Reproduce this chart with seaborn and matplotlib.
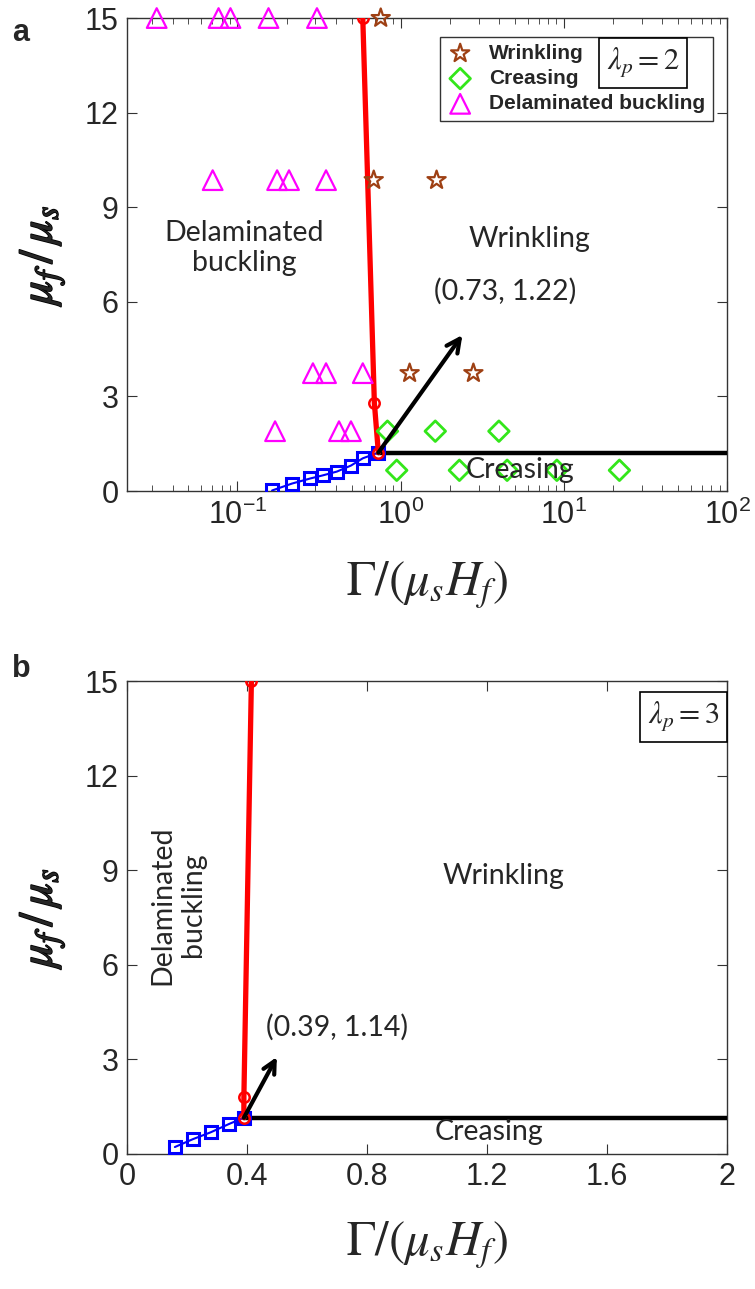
import numpy as np
import pandas as pd
import matplotlib
matplotlib.use("Agg")
import matplotlib.pyplot as plt
import matplotlib.patheffects as pe
from matplotlib.ticker import FixedLocator, FuncFormatter, LogLocator, NullFormatter
import seaborn as sns

# ---- panel a data (lambda_p = 2), log x ----
wrinkling_x = [0.755, 0.684, 1.66, 1.135, 2.79]
wrinkling_y = [15.0, 9.86, 9.86, 3.74, 3.74]
creasing_x = [0.83, 1.63, 4.0, 0.946, 2.29, 4.49, 9.06, 21.9]
creasing_y = [1.9, 1.9, 1.9, 0.66, 0.66, 0.66, 0.66, 0.66]
delam_x = [0.032, 0.0766, 0.0906, 0.155, 0.307,
           0.0705, 0.175, 0.207, 0.349,
           0.29, 0.349, 0.586,
           0.17, 0.419, 0.496]
delam_y = [15.0, 15.0, 15.0, 15.0, 15.0,
           9.86, 9.86, 9.86, 9.86,
           3.74, 3.74, 3.74,
           1.9, 1.9, 1.9]
blue_a_x = [0.163, 0.216, 0.279, 0.334, 0.407, 0.496, 0.586, 0.73]
blue_a_y = [0.02, 0.24, 0.40, 0.50, 0.62, 0.81, 1.04, 1.22]
red_a_x = [0.73, 0.69, 0.586]
red_a_y = [1.22, 2.8, 15.0]
crease_a_x = [0.73, 100.0]
crease_a_y = [1.22, 1.22]

# ---- panel b data (lambda_p = 3), linear x ----
blue_b_x = [0.16, 0.22, 0.28, 0.34, 0.39]
blue_b_y = [0.21, 0.46, 0.68, 0.94, 1.14]
red_b_x = [0.39, 0.39, 0.415]
red_b_y = [1.14, 1.8, 15.0]
crease_b_x = [0.39, 2.0]
crease_b_y = [1.14, 1.14]

y_ticks = [0, 3, 6, 9, 12, 15]
xb_ticks = [0, 0.4, 0.8, 1.2, 1.6, 2.0]
xb_labels = ["0", "0.4", "0.8", "1.2", "1.6", "2"]

sns.set_style("ticks")
plt.rcParams['font.family'] = ['Liberation Sans Narrow', 'Liberation Sans', 'DejaVu Sans']
plt.rcParams['mathtext.fontset'] = 'stix'

TICK_FS = 22
REGION_FONT = ['Lato', 'Open Sans', 'DejaVu Sans']
REGION_FS = 20.5

fig = plt.figure(figsize=(7.55, 12.89), dpi=100)
ax_a = fig.add_axes([0.168, 0.619, 0.795, 0.367])
ax_b = fig.add_axes([0.168, 0.105, 0.795, 0.3666])


def style_axes(ax):
    for s in ax.spines.values():
        s.set_color('0.2')
        s.set_linewidth(1.0)
    ax.tick_params(which='both', direction='in', top=True, right=True,
                   labelsize=TICK_FS, color='0.2', pad=6)
    ax.tick_params(which='major', length=7)
    ax.tick_params(which='minor', length=4)
    ax.set_ylim(0, 15)
    ax.yaxis.set_major_locator(FixedLocator(y_ticks))
    ax.set_ylabel(r"$\mu_f\,/\,\mu_s$", fontsize=34,
                  path_effects=[pe.withStroke(linewidth=1.2, foreground='black')])
    ax.yaxis.set_label_coords(-0.1, 0.5)
    ax.set_xlabel(r"$\Gamma/\left(\mu_s H_f\right)$", fontsize=35)


def phase_lines(ax, bx, by, rx, ry, cx, cy):
    sns.lineplot(x=bx, y=by, ax=ax, sort=False, estimator=None, color='blue', lw=1.5,
                 marker='s', markersize=9, markerfacecolor='none',
                 markeredgecolor='blue', markeredgewidth=2.2, zorder=4)
    sns.lineplot(x=cx, y=cy, ax=ax, sort=False, estimator=None, color='black', lw=3.2,
                 zorder=3)
    sns.lineplot(x=rx, y=ry, ax=ax, sort=False, estimator=None, color='red', lw=3.8,
                 marker='o', markersize=7.5, markerfacecolor='none',
                 markeredgecolor='red', markeredgewidth=1.8, zorder=5)


# ---------------- panel a ----------------
ax = ax_a
ax.set_xscale('log')
sns.scatterplot(x=wrinkling_x, y=wrinkling_y, ax=ax, marker='*', s=190,
                facecolor='none', edgecolor=(0.62, 0.25, 0.08), linewidth=1.6,
                label='Wrinkling', zorder=6, clip_on=False)
sns.scatterplot(x=creasing_x, y=creasing_y, ax=ax, marker='D', s=110,
                facecolor='none', edgecolor=(0.2, 0.9, 0.1), linewidth=2.0,
                label='Creasing', zorder=6, clip_on=False)
sns.scatterplot(x=delam_x, y=delam_y, ax=ax, marker='^', s=200,
                facecolor='none', edgecolor=(1.0, 0.0, 1.0), linewidth=1.6,
                label='Delaminated buckling', zorder=6, clip_on=False)
phase_lines(ax, blue_a_x, blue_a_y, red_a_x, red_a_y, crease_a_x, crease_a_y)
ax.set_xlim(0.021, 100)
ax.xaxis.set_major_locator(LogLocator(base=10, numticks=10))
ax.xaxis.set_minor_locator(LogLocator(base=10, subs=np.arange(2, 10), numticks=20))
ax.xaxis.set_minor_formatter(NullFormatter())
ax.xaxis.set_major_formatter(FuncFormatter(
    lambda v, p: r"$\mathregular{10^{%d}}$" % int(round(np.log10(v)))))
style_axes(ax)
ax.xaxis.set_label_coords(0.5, -0.145)

leg = ax.legend(loc='upper left', bbox_to_anchor=(0.505, 0.983), frameon=True,
                fancybox=False, edgecolor='0.2', framealpha=1,
                prop={'family': ['Liberation Sans', 'DejaVu Sans'], 'size': 15, 'weight': 'bold'},
                handletextpad=0.8, borderpad=0.35, labelspacing=0.3, handlelength=1.2)
leg.get_frame().set_linewidth(1.0)
leg.set_zorder(8)

ax.annotate('', xy=(2.39, 4.95), xytext=(0.73, 1.22),
            arrowprops=dict(arrowstyle='->', lw=3, color='black', mutation_scale=24,
                            shrinkA=0, shrinkB=0), zorder=7)
ax.text(0.11, 7.7, "Delaminated\nbuckling", ha='center', va='center',
        fontsize=REGION_FS, family=REGION_FONT, linespacing=1.2)
ax.text(6.2, 8.0, "Wrinkling", ha='center', va='center', fontsize=REGION_FS, family=REGION_FONT)
ax.text(5.37, 0.67, "Creasing", ha='center', va='center', fontsize=REGION_FS, family=REGION_FONT,
        zorder=7)
ax.text(4.35, 6.35, "(0.73, 1.22)", ha='center', va='center', fontsize=REGION_FS,
        family=REGION_FONT)
ax.text(0.86, 0.905, r"$\lambda_p = 2$", transform=ax.transAxes, ha='center', va='center',
        fontsize=22, zorder=9,
        bbox=dict(boxstyle='square,pad=0.25', facecolor='white', edgecolor='black', lw=1.2))

# ---------------- panel b ----------------
ax = ax_b
phase_lines(ax, blue_b_x, blue_b_y, red_b_x, red_b_y, crease_b_x, crease_b_y)
ax.set_xlim(0, 2)
ax.xaxis.set_major_locator(FixedLocator(xb_ticks))
ax.set_xticklabels(xb_labels)
style_axes(ax)
ax.xaxis.set_label_coords(0.5, -0.14)

ax.annotate('', xy=(0.5, 3.07), xytext=(0.39, 1.14),
            arrowprops=dict(arrowstyle='->', lw=3, color='black', mutation_scale=22,
                            shrinkA=0, shrinkB=0), zorder=7)
ax.text(0.17, 7.9, "Delaminated\nbuckling", ha='center', va='center', rotation=90,
        fontsize=REGION_FS, family=REGION_FONT, linespacing=1.2)
ax.text(1.256, 8.8, "Wrinkling", ha='center', va='center', fontsize=REGION_FS, family=REGION_FONT)
ax.text(1.206, 0.68, "Creasing", ha='center', va='center', fontsize=REGION_FS, family=REGION_FONT)
ax.text(0.70, 4.0, "(0.39, 1.14)", ha='center', va='center', fontsize=REGION_FS,
        family=REGION_FONT)
ax.text(0.927, 0.924, r"$\lambda_p = 3$", transform=ax.transAxes, ha='center', va='center',
        fontsize=22, zorder=9,
        bbox=dict(boxstyle='square,pad=0.25', facecolor='white', edgecolor='black', lw=1.2))

fig.text(0.016, 0.986, "a", fontsize=22, fontweight='bold', family=['Liberation Sans'],
         va='top', ha='left')
fig.text(0.016, 0.493, "b", fontsize=22, fontweight='bold', family=['Liberation Sans'],
         va='top', ha='left')

fig.savefig("out.png", dpi=100)
